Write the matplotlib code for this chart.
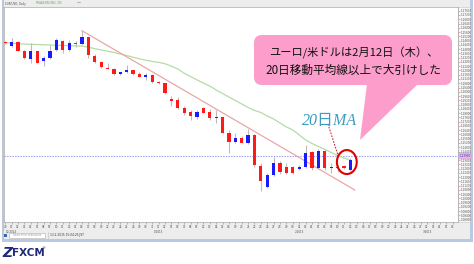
import numpy as np
import matplotlib
matplotlib.use('Agg')
import matplotlib.pyplot as plt
from matplotlib.patches import Rectangle, FancyBboxPatch, Polygon, Ellipse

# ---------------- data (EUR/USD daily, Nov 28 2014 - Feb 12 2015) ----------------
opens = [1.2467, 1.2432, 1.2470, 1.2383, 1.2308, 1.2383, 1.2292, 1.2314, 1.2392, 1.2479,
         1.2392, 1.2460, 1.2445, 1.2511, 1.2336, 1.2282, 1.2223, 1.2211, 1.2167, 1.2183,
         1.2204, 1.2164, 1.2142, 1.2158, 1.2089, 1.2080, 1.1932, 1.1923, 1.1851, 1.1813,
         1.1766, 1.1845, 1.1813, 1.1758, 1.1761, 1.1616, 1.1532, 1.1569, 1.1517, 1.1595,
         1.1304, 1.1104, 1.1222, 1.1332, 1.1295, 1.1295, 1.1276, 1.1295, 1.1435, 1.1285,
         1.1445, 1.1290, 1.1299, 1.1304, 1.1267]
highs = [1.2479, 1.2505, 1.2476, 1.2392, 1.2460, 1.2385, 1.2336, 1.2439, 1.2505, 1.2486,
         1.2486, 1.2479, 1.2573, 1.2514, 1.2354, 1.2289, 1.2273, 1.2223, 1.2186, 1.2251,
         1.2206, 1.2189, 1.2179, 1.2167, 1.2101, 1.2083, 1.1961, 1.1948, 1.1867, 1.1829,
         1.1829, 1.1855, 1.1836, 1.1829, 1.1763, 1.1642, 1.1611, 1.1585, 1.1648, 1.1604,
         1.1329, 1.1238, 1.1388, 1.1351, 1.1332, 1.1304, 1.1313, 1.1501, 1.1445, 1.1463,
         1.1454, 1.1332, 1.1313, 1.1313, 1.1379]
lows = [1.2448, 1.2420, 1.2383, 1.2308, 1.2273, 1.2270, 1.2242, 1.2305, 1.2385, 1.2364,
        1.2385, 1.2423, 1.2440, 1.2317, 1.2267, 1.2223, 1.2211, 1.2158, 1.2158, 1.2173,
        1.2158, 1.2136, 1.2111, 1.2083, 1.2073, 1.1979, 1.1870, 1.1836, 1.1782, 1.1735,
        1.1745, 1.1801, 1.1735, 1.1704, 1.1613, 1.1429, 1.1517, 1.1520, 1.1514, 1.1292,
        1.1072, 1.1098, 1.1211, 1.1229, 1.1229, 1.1229, 1.1266, 1.1285, 1.1266, 1.1276,
        1.1266, 1.1238, 1.1248, 1.1276, 1.1257]
closes = [1.2453, 1.2470, 1.2385, 1.2314, 1.2383, 1.2273, 1.2314, 1.2385, 1.2486, 1.2392,
          1.2460, 1.2445, 1.2511, 1.2345, 1.2282, 1.2230, 1.2218, 1.2164, 1.2183, 1.2204,
          1.2164, 1.2142, 1.2158, 1.2089, 1.2080, 1.1986, 1.1916, 1.1845, 1.1798, 1.1773,
          1.1813, 1.1804, 1.1751, 1.1763, 1.1616, 1.1532, 1.1564, 1.1523, 1.1595, 1.1313,
          1.1166, 1.1220, 1.1332, 1.1248, 1.1238, 1.1238, 1.1295, 1.1426, 1.1285, 1.1445,
          1.1285, 1.1299, 1.1290, 1.1285, 1.1360]
ma20 = [1.2460, 1.2456, 1.2451, 1.2448, 1.2445, 1.2443, 1.2441, 1.2439, 1.2436, 1.2434,
        1.2432, 1.2430, 1.2428, 1.2418, 1.2405, 1.2392, 1.2381, 1.2369, 1.2354, 1.2340,
        1.2324, 1.2309, 1.2296, 1.2285, 1.2276, 1.2263, 1.2240, 1.2214, 1.2174, 1.2143,
        1.2111, 1.2082, 1.2054, 1.2017, 1.1984, 1.1951, 1.1918, 1.1886, 1.1853, 1.1825,
        1.1806, 1.1773, 1.1745, 1.1707, 1.1670, 1.1642, 1.1595, 1.1548, 1.1515, 1.1487,
        1.1459, 1.1431, 1.1403, 1.1379, 1.1360]
day_labels = ['28', '01', '02', '03', '04', '05', '08', '09', '10', '11', '12', '15', '16', '17',
              '18', '19', '22', '23', '24', '25', '26', '29', '30', '31', '01', '02', '05', '06',
              '07', '08', '09', '12', '13', '14', '15', '16', '19', '20', '21', '22', '23', '26',
              '27', '28', '29', '30', '02', '03', '04', '05', '06', '09', '10', '11', '12', '13',
              '16', '17', '18', '19', '20', '23', '24', '25', '26', '27', '02', '03', '04', '05', '06']
month_labels = ['12/2014', '1/2015', '2/2015', '3/2015']
month_index = [1, 24, 46, 66]
trend_x = [12, 54.7]
trend_y = [1.2573, 1.1079]
level_price = 1.1398
ma_arrow_x = [50.5, 52.1]
ma_arrow_y = [1.1698, 1.1398]
circle_x, circle_y = 53.45, 1.1341
bubble_lines = ['ユーロ/米ドルは2月12日（木）、', '20日移動平均線以上で大引けした']

W, H = 474, 264
plt.rcParams['font.family'] = ['Noto Sans CJK JP', 'DejaVu Sans']
fig = plt.figure(figsize=(W / 100, H / 100), dpi=100)
fig.patch.set_facecolor('white')

# ---------------- background window frame (pixel coords) ----------------
bg = fig.add_axes([0, 0, 1, 1], zorder=0)
bg.set_xlim(0, W); bg.set_ylim(H, 0); bg.axis('off')
bg.add_patch(Rectangle((2, 0), 470, 241, facecolor='#ededed', edgecolor='none'))
bg.add_patch(Rectangle((2, 0), 2, 241, facecolor='#b9c5d9', edgecolor='none'))
bg.add_patch(Rectangle((470, 0), 3, 242, facecolor='#b9c9e2', edgecolor='none'))
bg.add_patch(Rectangle((2, 239), 471, 3, facecolor='#b9c9e2', edgecolor='none'))
bg.add_patch(Rectangle((458, 7), 12, 215, facecolor='#f7f7f7', edgecolor='#c8c8c8', lw=0.4))
bg.text(5, 3.5, 'EUR/USD, Daily', fontsize=2.0, color='#555555', va='center',
        family='DejaVu Sans')
bg.text(36, 3.5, 'MVA(EUR/USD, 20)', fontsize=2.0, color='#5aa84a', va='center',
        family='DejaVu Sans')
bg.plot([77, 80], [2, 2], color='#999999', lw=0.5)
# status bar
bg.add_patch(Rectangle((4.5, 233.5), 3, 3, facecolor='#3a62b0', edgecolor='none'))
bg.add_patch(Rectangle((9, 232.5), 36, 5, facecolor='white', edgecolor='#b0b0b0', lw=0.4))
bg.text(13, 235, 'Search for indicators', fontsize=2.0, color='#9a9a9a', va='center',
        family='DejaVu Sans')
bg.plot([48, 48], [232, 238], color='#c0c0c0', lw=0.4)
bg.text(50, 235, '13.2.2015 15:04:25 JST', fontsize=2.1, color='#333333', va='center',
        family='DejaVu Sans')

# ---------------- main chart ----------------
ax = fig.add_axes([4 / W, 1 - 222 / H, 454 / W, 215 / H], zorder=1)
ax.set_facecolor('white')
n = len(opens)
x = np.arange(n)
o = np.array(opens); c = np.array(closes); hi = np.array(highs); lo = np.array(lows)

ax.plot(x, ma20, color='#b4dca6', lw=0.9, zorder=2)
ax.plot(trend_x, trend_y, color='#eaa6a6', lw=0.9, zorder=2)
ax.axhline(level_price, color='#9a9af5', lw=0.8, ls=(0, (1.2, 1.2)), zorder=1)

ax.vlines(x, lo, hi, color='#bcbcbc', lw=0.8, zorder=3)
up = c >= o
body_bottom = np.minimum(o, c)
body_h = np.maximum(np.abs(c - o), 0.0008)
ax.bar(x[up], body_h[up], bottom=body_bottom[up], width=0.5, color='#1a1aff', lw=0, zorder=4)
ax.bar(x[~up], body_h[~up], bottom=body_bottom[~up], width=0.5, color='#ff1a1a', lw=0, zorder=4)

ax.plot(ma_arrow_x, ma_arrow_y, color='#c83030', lw=0.8, ls=(0, (1.5, 1.2)), zorder=5)
ax.add_patch(Ellipse((circle_x, circle_y), 3.1, 0.0225, facecolor='none',
                     edgecolor='#e00000', lw=1.5, zorder=6))

ax.set_xlim(-0.2, 70.85)
ax.set_ylim(1.0779, 1.2795)

ax.set_xticks(np.arange(len(day_labels)))
ax.set_xticklabels(day_labels, fontsize=2.0, color='#555555', family='DejaVu Sans')
ax.tick_params(axis='x', length=1.5, width=0.4, color='#888888', pad=0.8)
yt = np.arange(1.080, 1.2795, 0.004)
ax.set_yticks(yt)
ax.set_yticklabels([f'{v:.5f}' for v in yt], fontsize=2.0, color='#555555', family='DejaVu Sans')
ax.tick_params(axis='y', left=False, labelleft=False, right=True, labelright=True,
               length=1.2, width=0.4, color='#e07070', pad=0.5)
for s in ax.spines.values():
    s.set_color('#a8a8a8'); s.set_linewidth(0.5)
for mi, ml in zip(month_index, month_labels):
    ax.text(mi, -0.035, ml, transform=ax.get_xaxis_transform(), fontsize=2.0,
            color='#555555', ha='center', va='top', family='DejaVu Sans')
ax.text(1.003, level_price, f'{level_price:.5f}', transform=ax.get_yaxis_transform(),
        fontsize=2.0, color='#2030d0', ha='left', va='center', family='DejaVu Sans',
        bbox=dict(boxstyle='square,pad=0.25', facecolor='#f6b8d0', edgecolor='#9a9af5', lw=0.3),
        zorder=10, clip_on=False)

# ---------------- overlay: callout, label, logo (pixel coords) ----------------
ov = fig.add_axes([0, 0, 1, 1], zorder=2)
ov.set_xlim(0, W); ov.set_ylim(H, 0); ov.axis('off'); ov.patch.set_alpha(0)
pink = '#fd9dcb'
ov.add_patch(Polygon([(367, 84), (418, 84), (360, 140)], closed=True, facecolor=pink,
                     edgecolor='none'))
ov.add_patch(FancyBboxPatch((254, 35), 198, 50, boxstyle='round,pad=0,rounding_size=8',
                            facecolor=pink, edgecolor='none'))
ov.text(354, 53, bubble_lines[0], fontsize=8.1, ha='center', va='center', color='#111111')
ov.text(353, 70, bubble_lines[1], fontsize=8.4, ha='center', va='center', color='#111111')
ov.text(330, 121, '20日MA', fontsize=11.5, ha='center', va='center', color='#3c9cc4',
        fontstyle='italic', family=['Liberation Serif', 'Noto Sans CJK JP'])

ov.text(2, 253, 'Z', fontsize=10, fontweight='heavy', fontstyle='italic', color='#1e2a78',
        ha='left', va='center', family='DejaVu Sans')
ov.text(12, 253.5, 'FXCM', fontsize=7.5, fontweight='bold', color='#1e2a78',
        ha='left', va='center', family='DejaVu Sans')
ov.text(41, 248, '®', fontsize=3, color='#1e2a78', ha='left', va='center', family='DejaVu Sans')

fig.savefig('out.png', dpi=100)
